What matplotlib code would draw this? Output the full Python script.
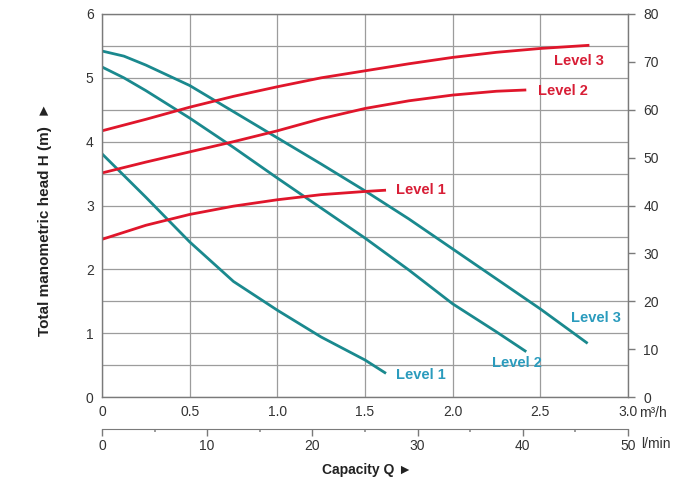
import matplotlib
matplotlib.use("Agg")
import matplotlib.pyplot as plt
import numpy as np

plt.rcParams['font.family'] = ['Liberation Sans', 'DejaVu Sans']

# Flow (m3/h) and head (m) readings
teal1_q = [0.0, 0.25, 0.5, 0.75, 1.0, 1.25, 1.5, 1.62]
teal1_h = [3.81, 3.13, 2.43, 1.81, 1.36, 0.94, 0.58, 0.37]
teal2_q = [0.0, 0.125, 0.25, 0.5, 0.75, 1.0, 1.25, 1.5, 1.75, 2.0, 2.25, 2.42]
teal2_h = [5.17, 5.00, 4.80, 4.37, 3.91, 3.43, 2.96, 2.49, 1.99, 1.46, 1.02, 0.71]
teal3_q = [0.0, 0.125, 0.25, 0.5, 0.75, 1.0, 1.25, 1.5, 1.75, 2.0, 2.25, 2.5, 2.77]
teal3_h = [5.42, 5.34, 5.20, 4.88, 4.47, 4.06, 3.65, 3.23, 2.79, 2.32, 1.85, 1.38, 0.84]
red1_q = [0.0, 0.25, 0.5, 0.75, 1.0, 1.25, 1.5, 1.62]
red1_h = [2.47, 2.69, 2.86, 2.99, 3.09, 3.17, 3.22, 3.24]
red2_q = [0.0, 0.25, 0.5, 0.75, 1.0, 1.25, 1.5, 1.75, 2.0, 2.25, 2.42]
red2_h = [3.51, 3.68, 3.84, 4.00, 4.17, 4.36, 4.52, 4.64, 4.73, 4.79, 4.81]
red3_q = [0.0, 0.25, 0.5, 0.75, 1.0, 1.25, 1.5, 1.75, 2.0, 2.25, 2.5, 2.78]
red3_h = [4.17, 4.35, 4.54, 4.71, 4.86, 5.00, 5.11, 5.22, 5.32, 5.40, 5.46, 5.51]

x_ticks = [0, 0.5, 1.0, 1.5, 2.0, 2.5, 3.0]
x_labels = ['0', '0.5', '1.0', '1.5', '2.0', '2.5', '3.0']
y_ticks = [0, 1, 2, 3, 4, 5, 6]
right_ticks = [0, 10, 20, 30, 40, 50, 60, 70, 80]
lmin_ticks = [0, 10, 20, 30, 40, 50]
lmin_minor = [5, 15, 25, 35, 45]
level_names = ['Level 1', 'Level 2', 'Level 3']

RED = '#e0162b'
RED_TXT = '#d81e36'
TEAL = '#1a898e'
TEAL_TXT = '#2a9bbd'
TXT = '#333333'

fig = plt.figure(figsize=(7.0, 4.86), dpi=100)
ax = fig.add_axes([0.1457, 0.1831, 0.7514, 0.7881])

for q, h in [(teal1_q, teal1_h), (teal2_q, teal2_h), (teal3_q, teal3_h)]:
    ax.plot(q, h, color=TEAL, lw=2.0, solid_capstyle='butt', solid_joinstyle='round')
for q, h in [(red1_q, red1_h), (red2_q, red2_h), (red3_q, red3_h)]:
    ax.plot(q, h, color=RED, lw=2.0, solid_capstyle='butt', solid_joinstyle='round')

ax.set_xlim(0, 3.0)
ax.set_ylim(0, 6)
ax.set_xticks(x_ticks)
ax.set_xticklabels(x_labels)
ax.set_yticks(y_ticks)
ax.set_yticks(np.arange(0, 6.01, 0.5), minor=True)
ax.grid(True, which='both', color='#9c9c9c', lw=0.9)
ax.set_axisbelow(True)
ax.tick_params(axis='both', which='both', length=0, labelsize=10, colors=TXT)
ax.tick_params(axis='x', pad=6)
ax.tick_params(axis='y', pad=6)
for s in ax.spines.values():
    s.set_color('#7a7a7a')
    s.set_linewidth(1.0)

# Labels on curves
kw = dict(fontsize=10.5, fontweight='bold', ha='center', va='center')
ax.text(2.72, 5.26, level_names[2], color=RED_TXT, **kw)
ax.text(2.63, 4.79, level_names[1], color=RED_TXT, **kw)
ax.text(1.82, 3.25, level_names[0], color=RED_TXT, **kw)
ax.text(2.815, 1.23, level_names[2], color=TEAL_TXT, **kw)
ax.text(2.366, 0.53, level_names[1], color=TEAL_TXT, **kw)
ax.text(1.82, 0.34, level_names[0], color=TEAL_TXT, **kw)

# Right axis 0-80
ax2 = ax.twinx()
ax2.set_ylim(0, 80)
ax2.set_yticks(right_ticks)
ax2.tick_params(axis='y', direction='out', length=5, width=1, color='#7a7a7a',
                labelsize=10, labelcolor=TXT, pad=6)
for s in ax2.spines.values():
    s.set_visible(False)

fig.text(0.913, 0.150, 'm\u00b3/h', fontsize=10, color=TXT, ha='left', va='center')

# Secondary flow axis in l/min
ax3 = fig.add_axes([0.1457, 0.1173, 0.7514, 0.0001])
ax3.set_xlim(0, 50)
ax3.set_ylim(0, 1)
ax3.set_xticks(lmin_ticks)
ax3.set_xticks(lmin_minor, minor=True)
ax3.set_yticks([])
for k in ['left', 'right', 'top']:
    ax3.spines[k].set_visible(False)
ax3.spines['bottom'].set_color('#7a7a7a')
ax3.patch.set_visible(False)
ax3.tick_params(axis='x', which='major', direction='out', length=5, width=1,
                color='#7a7a7a', labelsize=10, labelcolor=TXT, pad=2)
ax3.tick_params(axis='x', which='minor', direction='out', length=2, width=1.2,
                color='#8a8a8a')
fig.text(0.916, 0.087, 'l/min', fontsize=10, color=TXT, ha='left', va='center')

fig.text(0.524, 0.033, 'Capacity Q \u25ba', fontsize=10, fontweight='bold',
         color='#222222', ha='center', va='center')
fig.text(0.064, 0.548, 'Total manometric head H (m)  \u25ba', fontsize=11,
         fontweight='bold', color='#222222', ha='center', va='center',
         rotation=90)

fig.savefig('out.png', dpi=100)
